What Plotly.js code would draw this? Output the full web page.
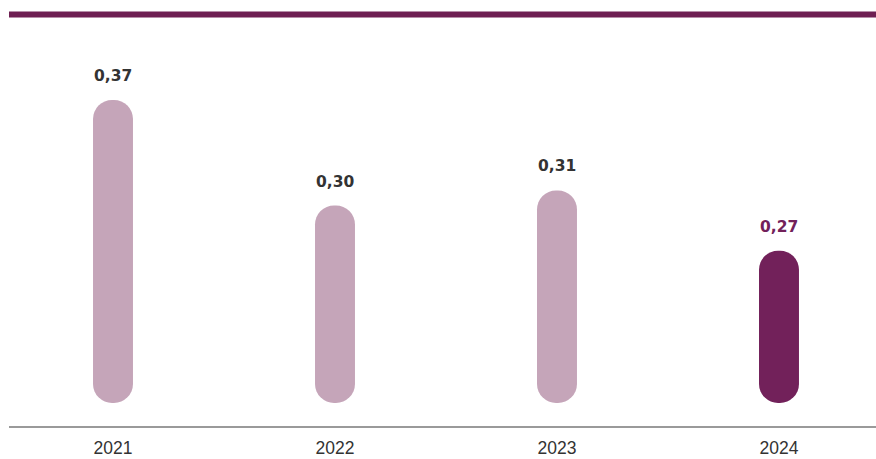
<!DOCTYPE html>
<html>
<head>
<meta charset="utf-8">
<script src="https://cdn.plot.ly/plotly-3.0.1.min.js"></script>
<style>html,body{margin:0;padding:0;background:#fff;}#chart{width:876px;height:459px;}</style>
</head>
<body>
<div id="chart"></div>
<script>
// Data
const years = ['2021', '2022', '2023', '2024'];
const values = [0.37, 0.30, 0.31, 0.27];
const labels = ['0,37', '0,30', '0,31', '0,27'];

// Styling
const light = '#c5a5b9';
const dark = '#72215a';
const barColors = years.map((y, i) => i === years.length - 1 ? dark : light);
const labelColors = years.map((y, i) => i === years.length - 1 ? dark : '#333333');
const pillBase = 0.1691;

const bars = {
  type: 'bar',
  x: years,
  base: years.map(() => pillBase),
  y: values.map(v => v - pillBase),
  width: 0.18,
  marker: {color: barColors, cornerradius: 20, line: {width: 0}},
  hoverinfo: 'skip'
};

const annotations = years.map((y, i) => ({
  x: i, y: values[i], xref: 'x', yref: 'y',
  text: '<b>' + labels[i] + '</b>',
  showarrow: false, yanchor: 'middle', yshift: 24,
  font: {family: 'DejaVu Sans', size: 15.5, color: labelColors[i]}
}));

const layout = {
  width: 876, height: 459,
  margin: {l: 9, r: 0, t: 40, b: 33},
  paper_bgcolor: '#ffffff', plot_bgcolor: '#ffffff',
  showlegend: false,
  xaxis: {
    type: 'category', range: [-0.4685, 3.437],
    showline: true, linecolor: '#9a9a9a', linewidth: 2,
    showgrid: false, zeroline: false, ticks: '',
    ticklabelstandoff: 5,
    tickfont: {family: 'Liberation Sans, Arial', size: 17.5, color: '#333333'},
    fixedrange: true
  },
  yaxis: {
    range: [0.1538, 0.4098], visible: false, showgrid: false, zeroline: false, fixedrange: true
  },
  shapes: [{
    type: 'line', xref: 'paper', yref: 'paper', x0: 0, x1: 1.02, y0: 1.066, y1: 1.066,
    line: {color: '#6e1f52', width: 6}
  }],
  annotations: annotations
};

Plotly.newPlot('chart', [bars], layout, {displayModeBar: false, staticPlot: true});
</script>
</body>
</html>
